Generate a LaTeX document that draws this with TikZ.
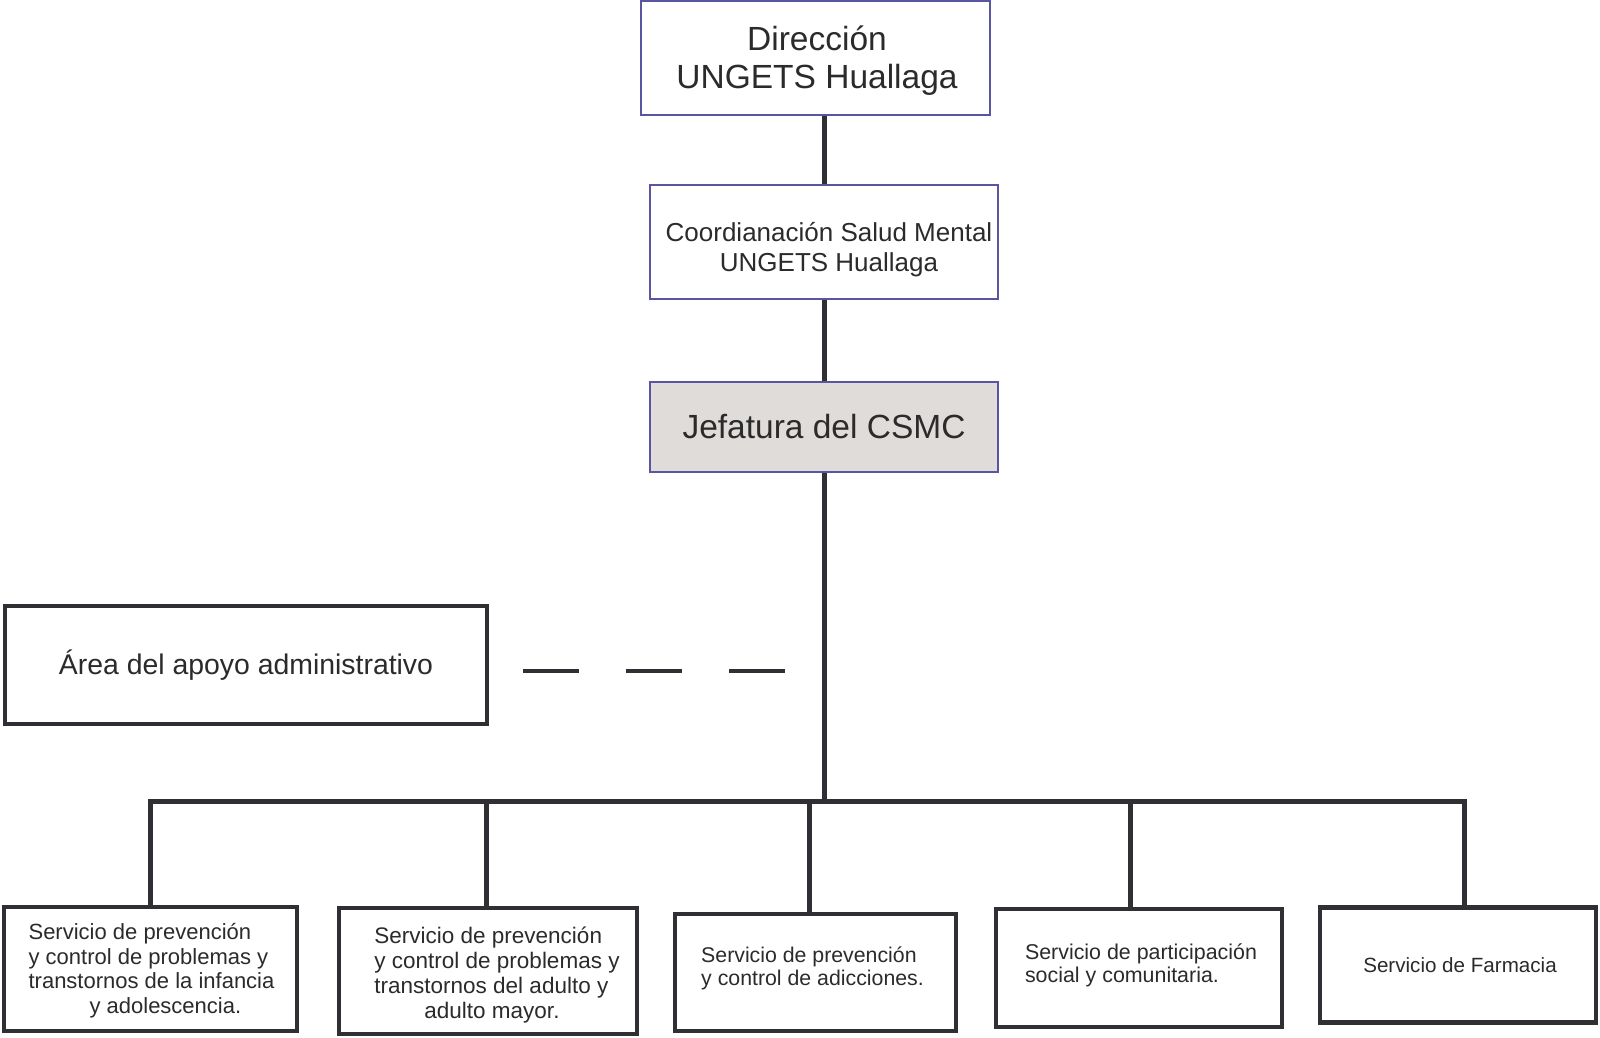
\documentclass[tikz,border=0pt]{standalone}
\usepackage{fontspec}
\setmainfont{Liberation Sans}
\definecolor{txt}{HTML}{2B2B2B}
\definecolor{ln}{HTML}{303034}
\definecolor{bluebd}{HTML}{5A55A0}
\definecolor{jefill}{HTML}{E0DCDA}
\newcommand{\mvtext}[3]{\hspace*{#1}\raisebox{#2}[\height][\depth]{#3}}
\begin{document}
\begin{tikzpicture}[x=1pt,y=-1pt,
  topbox/.style={draw=bluebd,line width=1.5pt,fill=white,text=txt,inner sep=0pt,align=center},
  botbox/.style={draw=ln,line width=4.5pt,fill=white,text=txt,inner sep=0pt,align=left,font=\fontsize{22}{24.9}\selectfont},
  conn/.style={draw=ln,line width=5pt},
  dashconn/.style={draw=ln,line width=4.5pt,dash pattern=on 56pt off 47pt}]
\useasboundingbox (0,0) rectangle (1600,1038);
\fill[white] (0,0) rectangle (1600,1038);
% top boxes
\node[topbox,minimum width=349pt,minimum height=114pt,font=\fontsize{33.5}{37.5}\selectfont] (dir) at (815.5,58) {\mvtext{3pt}{-4pt}{\begin{tabular}{@{}c@{}}Dirección\\UNGETS Huallaga\end{tabular}}};
\node[topbox,minimum width=348pt,minimum height=114pt,font=\fontsize{26}{29.6}\selectfont] (coord) at (824,242) {\mvtext{10pt}{-8.7pt}{\begin{tabular}{@{}c@{}}Coordianación Salud Mental\\UNGETS Huallaga\end{tabular}}};
\node[topbox,fill=jefill,minimum width=348pt,minimum height=90pt,font=\fontsize{33.5}{37.5}\selectfont] (jef) at (824,427) {Jefatura del CSMC};
% admin box
\node[draw=ln,line width=4.5pt,fill=white,text=txt,inner sep=0pt,minimum width=482pt,minimum height=118pt,font=\fontsize{28.4}{32}\selectfont] (area) at (246,665) {Área del apoyo administrativo};
% bottom boxes
\node[botbox,minimum width=293pt,minimum height=124pt] (b1) at (150.5,969) {\mvtext{2pt}{-2.5pt}{\begin{tabular}{@{}l@{}}Servicio de prevención\\y control de problemas y\\transtornos de la infancia\\\hspace*{61pt}y adolescencia.\end{tabular}}};
\node[botbox,minimum width=298pt,minimum height=126pt,font=\fontsize{22.5}{24.9}\selectfont] (b2) at (488,971) {\mvtext{18pt}{-5pt}{\begin{tabular}{@{}l@{}}Servicio de prevención\\y control de problemas y\\transtornos del adulto y\\\hspace*{50pt}adulto mayor.\end{tabular}}};
\node[botbox,minimum width=281pt,minimum height=117pt,font=\fontsize{21.3}{24.9}\selectfont] (b3) at (815.5,972.5) {\mvtext{-6pt}{3.6pt}{\begin{tabular}{@{}l@{}}Servicio de prevención\\[-1.6pt]y control de adicciones.\end{tabular}}};
\node[botbox,minimum width=286pt,minimum height=118pt,font=\fontsize{21.4}{24.9}\selectfont] (b4) at (1139,968) {\mvtext{4pt}{2pt}{\begin{tabular}{@{}l@{}}Servicio de participación\\[-1.6pt]social y comunitaria.\end{tabular}}};
\node[botbox,minimum width=276pt,minimum height=115pt,font=\fontsize{20.6}{24}\selectfont] (b5) at (1458,965) {\mvtext{4pt}{0pt}{Servicio de Farmacia}};
% connectors
\coordinate (barL) at (150,801);
\coordinate (barR) at (1464,801);
\coordinate (dend) at (785,671);
\draw[conn] (coord.north) -- (coord.north |- dir.south);
\draw[conn] (jef.north) -- (jef.north |- coord.south);
\draw[conn] (jef.south) -- (jef.south |- barL);
\draw[conn,line cap=rect] (barL) -- (barR);
\draw[conn] ([xshift=-0.5pt]b1.north) -- ([xshift=-0.5pt]b1.north |- barL);
\draw[conn] ([xshift=-2pt]b2.north) -- ([xshift=-2pt]b2.north |- barL);
\draw[conn] ([xshift=-6.5pt]b3.north) -- ([xshift=-6.5pt]b3.north |- barL);
\draw[conn] ([xshift=-9pt]b4.north) -- ([xshift=-9pt]b4.north |- barL);
\draw[conn] ([xshift=6pt]b5.north) -- ([xshift=6pt]b5.north |- barL);
\draw[dashconn] ([xshift=34pt]area.east |- dend) -- (dend);
\end{tikzpicture}
\end{document}
